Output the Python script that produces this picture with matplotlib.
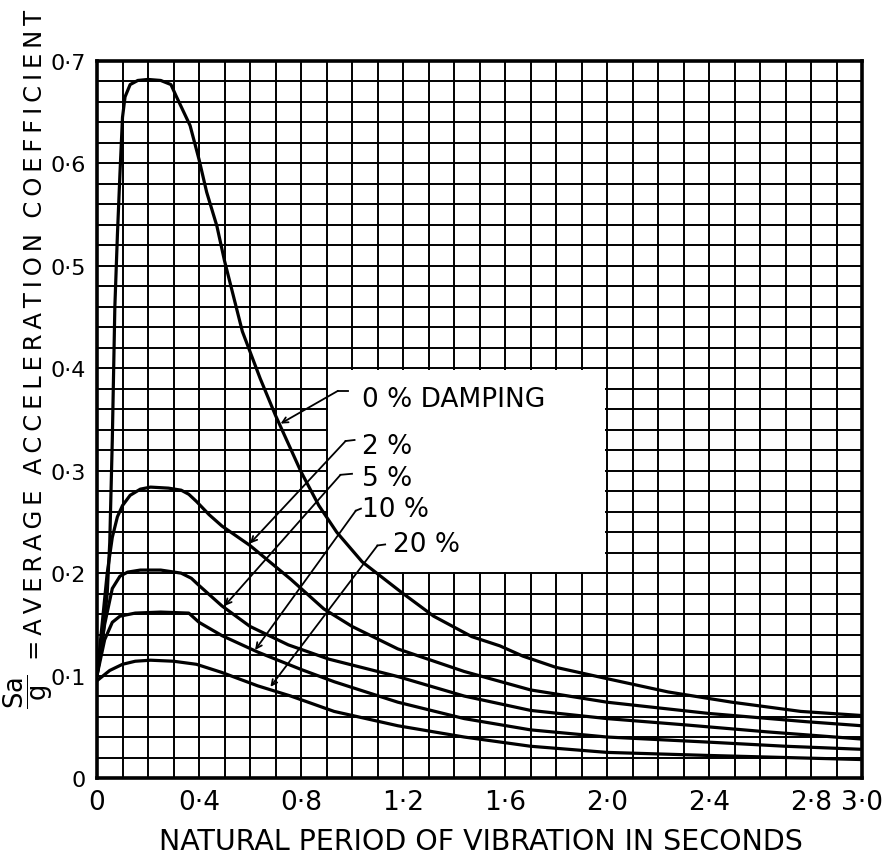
import matplotlib
matplotlib.use('Agg')
import matplotlib.pyplot as plt
import numpy as np
from matplotlib.patches import Rectangle

# ---------------- data ----------------
period_0 = [0, .02, .04, .05, .06, .07, .08, .09, .10, .11, .13, .16, .20, .25, .29, .31, .365, .40,
            .43, .47, .50, .57, .64, .70, .80, .87, .94, 1.04, 1.19, 1.32, 1.47, 1.58, 1.67, 1.80,
            2.0, 2.24, 2.49, 2.76, 3.0]
sa_0 = [.10, .13, .18, .23, .33, .46, .53, .59, .645, .665, .677, .681, .682, .681, .677, .666, .637, .604,
        .572, .539, .505, .436, .390, .354, .299, .266, .240, .211, .182, .158, .138, .129, .119, .108,
        .097, .084, .074, .065, .061]

period_2 = [0, .02, .04, .06, .08, .10, .13, .17, .21, .28, .33, .36, .39, .44, .49, .60, .76, .89, 1.0,
            1.18, 1.44, 1.70, 2.0, 2.4, 2.78, 3.0]
sa_2 = [.10, .15, .20, .235, .255, .266, .276, .282, .284, .283, .281, .277, .270, .257, .246, .227, .194, .165,
        .148, .126, .104, .086, .074, .063, .055, .051]

period_5 = [0, .03, .06, .09, .12, .17, .25, .33, .37, .40, .49, .60, .75, .91, 1.18, 1.44, 1.70, 2.0,
            2.3, 2.63, 3.0]
sa_5 = [.10, .15, .185, .197, .201, .203, .203, .200, .195, .188, .168, .148, .130, .116, .099, .080, .066, .058,
        .052, .045, .038]

period_10 = [0, .03, .06, .09, .15, .25, .36, .40, .49, .63, .80, .93, 1.18, 1.44, 1.70, 2.0, 2.4, 2.7, 3.0]
sa_10 = [.10, .135, .152, .158, .161, .162, .161, .152, .139, .123, .106, .094, .074, .058, .047, .040, .035,
         .031, .028]

period_20 = [0, .05, .10, .15, .21, .30, .39, .49, .63, .76, .93, 1.18, 1.44, 1.70, 2.0, 2.4, 2.7, 3.0]
sa_20 = [.095, .105, .111, .114, .115, .114, .111, .103, .090, .080, .065, .051, .040, .031, .025, .022,
         .020, .018]

damping_labels = ['0 % DAMPING', '2 %', '5 %', '10 %', '20 %']

x_ticks = [0, 0.4, 0.8, 1.2, 1.6, 2.0, 2.4, 2.8, 3.0]
x_tick_labels = ['0', '0·4', '0·8', '1·2', '1·6', '2·0', '2·4', '2·8', '3·0']
y_ticks = [0, 0.1, 0.2, 0.3, 0.4, 0.5, 0.6, 0.7]
y_tick_labels = ['0', '0·1', '0·2', '0·3', '0·4', '0·5', '0·6', '0·7']

x_label = 'NATURAL PERIOD OF VIBRATION IN SECONDS'
y_label_words = ['AVERAGE', 'ACCELERATION', 'COEFFICIENT']

# ---------------- figure ----------------
W, H = 885, 862
fig = plt.figure(figsize=(W / 100, H / 100), dpi=100)
fig.patch.set_facecolor('white')
ax = fig.add_axes([97 / W, 1 - 779 / H, (862 - 97) / W, (779 - 62) / H])

ax.set_xlim(0, 3.0)
ax.set_ylim(0, 0.7)

ax.set_xticks(x_ticks)
ax.set_xticklabels(x_tick_labels, fontsize=19)
ax.set_yticks(y_ticks)
ax.set_yticklabels(y_tick_labels, fontsize=16)
ax.set_xticks(np.arange(0, 3.001, 0.1), minor=True)
ax.set_yticks(np.arange(0, 0.7001, 0.02), minor=True)
ax.tick_params(which='both', length=0)
ax.tick_params(axis='x', pad=8)
ax.tick_params(axis='y', pad=8)
ax.grid(which='both', color='black', lw=1.4)
ax.set_axisbelow(True)
for s in ax.spines.values():
    s.set_linewidth(2.6)
    s.set_zorder(5)

# white label area
dx, dy = 0.006, 0.0016
ax.add_patch(Rectangle((0.9 + dx, 0.2 + dy), 1.1 - 2 * dx, 0.2 - 2 * dy,
                       facecolor='white', edgecolor='none', zorder=1))

curves = [(period_0, sa_0), (period_2, sa_2), (period_5, sa_5), (period_10, sa_10), (period_20, sa_20)]
for (px, py) in curves:
    ax.plot(px, py, color='black', lw=2.3, zorder=3,
            solid_capstyle='round', solid_joinstyle='round')

# labels with leader lines
label_pos = [(1.04, 0.370), (1.04, 0.324), (1.04, 0.293), (1.04, 0.263), (1.16, 0.228)]
leader_start = [(0.985, 0.378), (1.01, 0.330), (1.0, 0.297), (1.035, 0.263), (1.13, 0.228)]
leader_bend = [(0.945, 0.378), (0.975, 0.329), (0.955, 0.296), (1.015, 0.261), (1.10, 0.227)]
leader_end = [(0.72, 0.346), (0.60, 0.229), (0.50, 0.168), (0.62, 0.125), (0.68, 0.089)]

for lab, lp, ls, lb, le in zip(damping_labels, label_pos, leader_start, leader_bend, leader_end):
    ax.text(lp[0], lp[1], lab, ha='left', va='center', fontsize=19, zorder=6)
    ax.plot([ls[0], lb[0]], [ls[1], lb[1]], color='black', lw=1.3, zorder=4)
    ax.annotate('', xy=le, xytext=lb,
                arrowprops=dict(arrowstyle='->', lw=1.3, color='black',
                                shrinkA=0, shrinkB=0, mutation_scale=10),
                zorder=4)

# axis titles
fig.text(481 / W, 1 - 842 / H, x_label, ha='center', va='center', fontsize=20.5)

thin = '\u2009'
ylab = '=' + thin + '  '.join(thin.join(w) for w in y_label_words)
fig.text(35 / W, 1 - 660 / H, ylab, rotation=90, ha='center', va='bottom', fontsize=17.5)
fig.text(28 / W, 1 - 692 / H, r'$\dfrac{\mathrm{Sa}}{\mathrm{g}}$', rotation=90,
         ha='center', va='center', fontsize=18.5)

fig.savefig('out.png', dpi=100, facecolor='white')
